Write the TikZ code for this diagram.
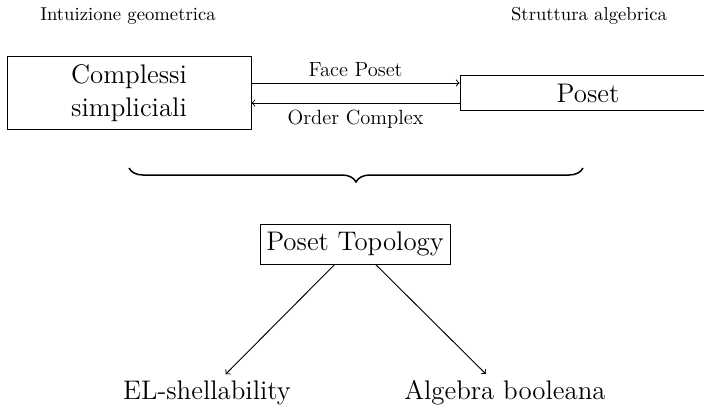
\documentclass[tikz,border=0pt]{standalone}
\usetikzlibrary{decorations.pathreplacing}
\begin{document}
\begin{tikzpicture}[x=0.5356pt, y=-0.5356pt, line width=0.5pt,
	box/.style={draw, font=\Large, align=center},
	lab/.style={font=\fontsize{11}{13}\selectfont}]
	\useasboundingbox (0,0) rectangle (704,406);
	% two points of view
	\node[font=\normalsize] (geo) at (128,16) {Intuizione geometrica};
	\node[font=\normalsize] (alg) at (589,16) {Struttura algebrica};
	\node[box, minimum width=130.7pt, minimum height=38.6pt] (complessi) at (129,93)
	{Complessi\\simpliciali};
	\node[box, minimum width=137pt, minimum height=18.7pt] (poset) at (588,93) {Poset};
	\draw[->] ([yshift=5.36pt]complessi.east) -- ([yshift=5.36pt]poset.west)
	node[midway, above, lab] {Face Poset};
	\draw[->] ([yshift=-5.36pt]poset.west) -- ([yshift=-5.36pt]complessi.east)
	node[midway, below, lab] {Order Complex};
	% brace over both
	\coordinate (bra) at (583,168);
	\coordinate (brb) at (129,168);
	\draw[decorate, decoration={brace, amplitude=7.5pt}, line width=0.8pt] (bra) -- (brb);
	\node[box, minimum height=21.4pt] (topology) at (355,244) {Poset Topology};
	\node[font=\Large] (el) at (207,393) {EL-shellability};
	\node[font=\Large] (booleana) at (505,393) {Algebra booleana};
	\foreach \t in {el, booleana}
		\draw[->] (topology) -- (\t);
\end{tikzpicture}
\end{document}
